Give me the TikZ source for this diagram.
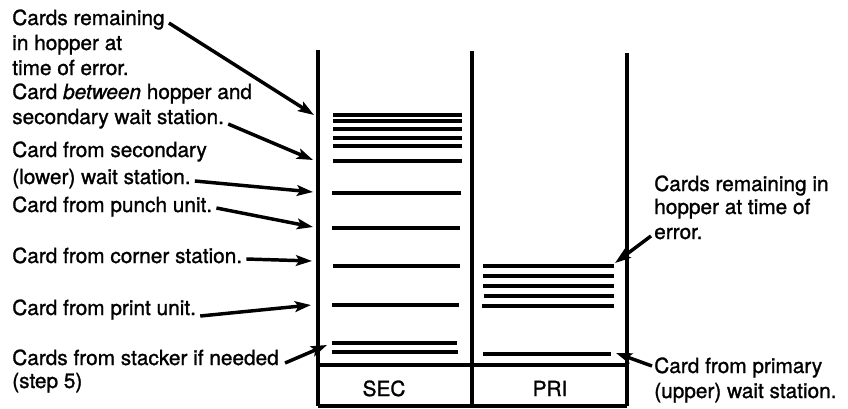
\documentclass[tikz,border=0pt]{standalone}
\usepackage{fontspec}
\setmainfont{TeX Gyre Heros}[FakeBold=1.2]
\usepackage{tikz}
\usetikzlibrary{arrows.meta}

\begin{document}
\begin{tikzpicture}[x=0.75pt,y=0.75pt,yscale=-1,xscale=1,
  wall/.style={line width=2.6pt},
  card/.style={line width=2.6pt},
  pointer/.style={line width=2.6pt,-{Stealth[length=12pt,width=8pt,inset=2.5pt]}},
  txt/.style={anchor=base west,inner sep=0.75pt,font=\fontsize{15.6}{19}\selectfont}]
\useasboundingbox (0,0) rectangle (848,408);

%Straight Lines: pocket walls
\draw [wall] (318,50) -- (318,406) ;
\draw [wall] (472,51) -- (472,406) ;
\draw [wall] (627,53) -- (627,406) ;
%Straight Lines: pocket labels box
\draw [wall] (318,365) -- (627,365) ;
\draw [wall] (318,406) -- (627,406) ;

%Straight Lines: cards in SEC pocket
\draw [card] (333,115) -- (462,115) ;
\draw [card] (333,121) -- (462,121) ;
\draw [card] (333,129) -- (462,129) ;
\draw [card] (333,138) -- (462,138) ;
\draw [card] (333,146) -- (462,146) ;
\draw [card] (333,161) -- (462,161) ;
\draw [card] (332,193) -- (461,193) ;
\draw [card] (332,228) -- (460,228) ;
\draw [card] (333,266) -- (460,266) ;
\draw [card] (332,305) -- (459,305) ;
\draw [card] (332,343) -- (457,343) ;
\draw [card] (332,352) -- (458,352) ;
%Straight Lines: cards in PRI pocket
\draw [card] (483,266) -- (614,266) ;
\draw [card] (483,276) -- (614,276) ;
\draw [card] (483,286) -- (614,286) ;
\draw [card] (484,296) -- (614,296) ;
\draw [card] (482,306) -- (614,306) ;
\draw [card] (483,354) -- (611,354) ;

% Arrow tips
\coordinate (sA) at (314,115) ;
\coordinate (sB) at (313,160) ;
\coordinate (sC) at (313,192) ;
\coordinate (sD) at (313,227) ;
\coordinate (sE) at (312,261) ;
\coordinate (sF) at (311,305) ;
\coordinate (sG) at (327,345) ;
\coordinate (pA) at (615,263) ;
\coordinate (pB) at (616,353) ;

% Text Node
\node (sec) at (384,396) [anchor=base,inner sep=0.75pt,font=\fontsize{15.6}{19}\selectfont] {SEC};
% Text Node
\node (pri) at (550,396) [anchor=base,inner sep=0.75pt,font=\fontsize{15.6}{19}\selectfont] {PRI};

% Text Node
\node (lA1) at (11,25) [txt] {Cards remaining};
\node (lA2) at (11,50) [txt] {in hopper at};
\node (lA3) at (11,75) [txt] {time of error.};
% Text Node
\node (lB1) at (11,99) [txt] {Card \textit{between} hopper and};
\node (lB2) at (11,124) [txt] {secondary wait station.};
% Text Node
\node (lC1) at (11,157) [txt] {Card from secondary};
\node (lC2) at (11,184) [txt] {(lower) wait station.};
% Text Node
\node (lD) at (11,212) [txt] {Card from punch unit.};
% Text Node
\node (lE) at (11,263) [txt] {Card from corner station.};
% Text Node
\node (lF) at (11,315) [txt] {Card from print unit.};
% Text Node
\node (lG1) at (11,365) [txt] {Cards from stacker if needed};
\node (lG2) at (11,388) [txt] {(step 5)};
% Text Node
\node (rA1) at (653,191) [txt] {Cards remaining in};
\node (rA2) at (653,214) [txt] {hopper at time of};
\node (rA3) at (653,239) [txt] {error.};
% Text Node
\node (rB1) at (653,373) [txt] {Card from primary};
\node (rB2) at (653,398) [txt] {(upper) wait station.};

%Straight Lines: pointers
\draw [pointer] ([shift={(3,-2)}]lA1.base east) -- (sA) ;
\draw [pointer] ([shift={(3,0)}]lB2.base east) -- (sB) ;
\draw [pointer] ([shift={(3,-3)}]lC2.base east) -- (sC) ;
\draw [pointer] ([shift={(3,-4)}]lD.base east) -- (sD) ;
\draw [pointer] ([shift={(3,-4)}]lE.base east) -- (sE) ;
\draw [pointer] ([shift={(3,1)}]lF.base east) -- (sF) ;
\draw [pointer] ([shift={(5,-2)}]lG1.base east) -- (sG) ;
\draw [pointer] ([shift={(-2,-3)}]rA3.base west) -- (pA) ;
\draw [pointer] ([shift={(-1,-7)}]rB1.base west) -- (pB) ;

\end{tikzpicture}
\end{document}
